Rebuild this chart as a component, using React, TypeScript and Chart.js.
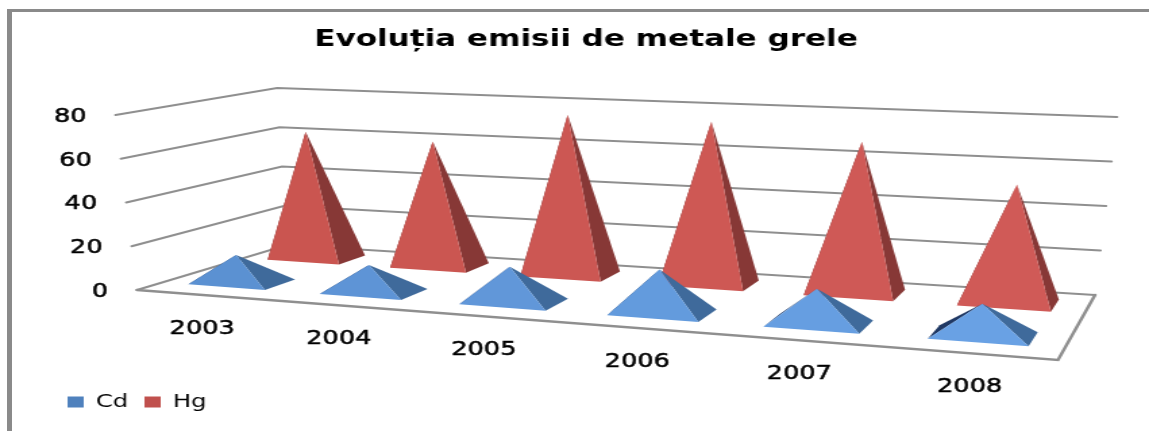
import React, { useEffect, useRef } from "react";
import { Chart, BarController, registerables } from "chart.js";

Chart.register(...registerables);

const titleText = "Evoluția emisii de metale grele";
const years = ["2003", "2004", "2005", "2006", "2007", "2008"];
const cdValues = [12.5, 12, 15.5, 18.7, 14.9, 13.3];
const hgValues = [62, 60, 75.6, 75, 68.5, 52.4];
const yMax = 80;
const yStep = 20;

const PAGE_W = 1149;
const CANVAS_W = 851;
const SX = PAGE_W / CANVAS_W;
const FONT = '"DejaVu Sans"';

// projected corners of the 3D box: [front/back][left/right][floor/top], in page pixels
const BOX = {
  flb: [137, 290], flt: [115.5, 115],
  blb: [287, 245], blt: [277, 88],
  brb: [1095, 295], brt: [1117, 117],
  frb: [1058, 360], frt: [1088, 162],
};
const WARP = 0.165;
const APEX_LEAN = 0.0045;
const DEPTHS = [
  [0.17, 0.39],
  [0.71, 0.9],
];
const STYLES = [
  { front0: [90, 143, 208], front1: [106, 163, 230], side: "#3F6A9B", left: "#1F3864" },
  { front0: [201, 84, 79], front1: [209, 90, 88], side: "#873836", left: "#6E2C2A" },
];

const lerp = (a: number, b: number, k: number) => a + (b - a) * k;

function project(t: number, v: number, w: number) {
  const u = t - WARP * t * (1 - t);
  const at = (i: number) => {
    const bottom = lerp(lerp(BOX.flb[i], BOX.frb[i], u), lerp(BOX.blb[i], BOX.brb[i], u), v);
    const top = lerp(lerp(BOX.flt[i], BOX.frt[i], u), lerp(BOX.blt[i], BOX.brt[i], u), v);
    return lerp(bottom, top, w);
  };
  return { x: at(0) / SX, y: at(1) };
}

function poly(ctx: CanvasRenderingContext2D, pts: { x: number; y: number }[], fill: string) {
  ctx.beginPath();
  pts.forEach((p, i) => (i ? ctx.lineTo(p.x, p.y) : ctx.moveTo(p.x, p.y)));
  ctx.closePath();
  ctx.fillStyle = fill;
  ctx.fill();
}

class PyramidController extends BarController {
  static id = "pyramid";
  static defaults = BarController.defaults;
  static overrides = BarController.overrides;
  draw() {
    const chart = (this as any).chart;
    const meta = (this as any).getMeta();
    const ctx = chart.ctx;
    const area = chart.chartArea;
    const W = area.right - area.left;
    const H = area.bottom - area.top;
    const s = (this as any).index;
    const [v0, v1] = DEPTHS[s];
    const st = STYLES[s];
    meta.data.forEach((el: any) => {
      const tc = (el.x - area.left) / W;
      const half = el.width / 2 / W;
      const w = (el.base - el.y) / H;
      const fl = project(tc - half, v0, 0);
      const fr = project(tc + half, v0, 0);
      const br = project(tc + half, v1, 0);
      const bl = project(tc - half, v1, 0);
      const apex = project(tc - APEX_LEAN, (v0 + v1) / 2, w);
      const c = st.front0.map((a, i) => Math.round(lerp(a, st.front1[i], tc)));
      poly(ctx, [fl, bl, apex], st.left);
      poly(ctx, [fr, br, apex], st.side);
      poly(ctx, [fl, fr, apex], `rgb(${c[0]},${c[1]},${c[2]})`);
    });
  }
}
Chart.register(PyramidController as any);

const boxPlugin = {
  id: "box3d",
  beforeDatasetsDraw(chart: any) {
    const ctx = chart.ctx;
    const y = chart.scales.y;
    const area = chart.chartArea;
    ctx.save();
    ctx.strokeStyle = "#8f8f8f";
    ctx.lineCap = "round";
    ctx.lineWidth = 2;
    y.ticks.forEach((tick: any) => {
      const w = (area.bottom - y.getPixelForValue(tick.value)) / (area.bottom - area.top);
      const a = project(0, 0, w);
      const b = project(0, 1, w);
      const c = project(1, 1, w);
      ctx.beginPath();
      ctx.moveTo(a.x, a.y);
      ctx.lineTo(b.x, b.y);
      ctx.lineTo(c.x, c.y);
      ctx.stroke();
    });
    const a = project(0, 0, 0);
    const f = project(1, 0, 0);
    const c = project(1, 1, 0);
    ctx.lineWidth = 2.5;
    ctx.beginPath();
    ctx.moveTo(a.x, a.y);
    ctx.lineTo(f.x, f.y);
    ctx.lineTo(c.x, c.y);
    ctx.stroke();
    ctx.restore();
  },
  afterDatasetsDraw(chart: any) {
    const ctx = chart.ctx;
    const { x, y } = chart.scales;
    const area = chart.chartArea;
    const W = area.right - area.left;
    const put = (s: string, px: number, py: number) => {
      ctx.fillText(s, px, py);
      ctx.strokeText(s, px, py);
    };
    ctx.save();
    ctx.fillStyle = "#000";
    ctx.strokeStyle = "#000";
    ctx.lineWidth = 0.5;
    ctx.font = `19px ${FONT}`;
    ctx.textBaseline = "middle";
    ctx.textAlign = "right";
    y.ticks.forEach((tick: any) => {
      const w = (area.bottom - y.getPixelForValue(tick.value)) / (area.bottom - area.top);
      const p = project(0, 0, w);
      put(String(tick.value), p.x - 29 / SX, p.y + 2);
    });
    ctx.textAlign = "center";
    x.getLabels().forEach((label: string, i: number) => {
      const p = project((x.getPixelForValue(i) - area.left) / W, 0, 0);
      put(label, p.x, p.y + 34);
    });
    ctx.restore();
  },
};

export default function App() {
  const ref = useRef<HTMLCanvasElement>(null);
  useEffect(() => {
    const chart = new Chart(ref.current!, {
      type: "pyramid" as any,
      data: {
        labels: years,
        datasets: [
          { label: "Cd", data: cdValues, backgroundColor: "#4F81BD", clip: false } as any,
          { label: "Hg", data: hgValues, backgroundColor: "#C0504D", clip: false } as any,
        ],
      },
      plugins: [boxPlugin],
      options: {
        responsive: false,
        animation: false,
        devicePixelRatio: 1,
        layout: { padding: { left: 38, right: 21, top: 0, bottom: 10 } },
        datasets: { pyramid: { grouped: false, barPercentage: 0.59, categoryPercentage: 1 } } as any,
        scales: {
          x: { type: "category", offset: true, display: false },
          y: { type: "linear", min: 0, max: yMax, ticks: { stepSize: yStep }, display: false },
        },
        plugins: {
          tooltip: { enabled: false },
          title: {
            display: true,
            text: titleText,
            color: "#000",
            font: { family: FONT, size: 23, weight: "bold" },
            padding: { top: 26, bottom: 10 },
          },
          legend: {
            position: "bottom",
            align: "start",
            labels: {
              color: "#000",
              font: { family: FONT, size: 18 },
              boxWidth: 12,
              boxHeight: 11,
              padding: 12,
            },
          },
        },
      },
    } as any);
    return () => chart.destroy();
  }, []);
  return (
    <div style={{ position: "fixed", left: 0, top: 0, width: PAGE_W, height: 431, background: "#fff", overflow: "hidden" }}>
      <div
        style={{
          position: "absolute",
          left: 7,
          top: 9,
          right: 0,
          bottom: 0,
          borderLeft: "5px solid #8a8a8a",
          borderTop: "3px solid #8a8a8a",
        }}
      />
      <canvas
        ref={ref}
        width={CANVAS_W}
        height={431}
        style={{ position: "absolute", left: 0, top: 0, transform: `scaleX(${SX})`, transformOrigin: "0 0" }}
      />
    </div>
  );
}
